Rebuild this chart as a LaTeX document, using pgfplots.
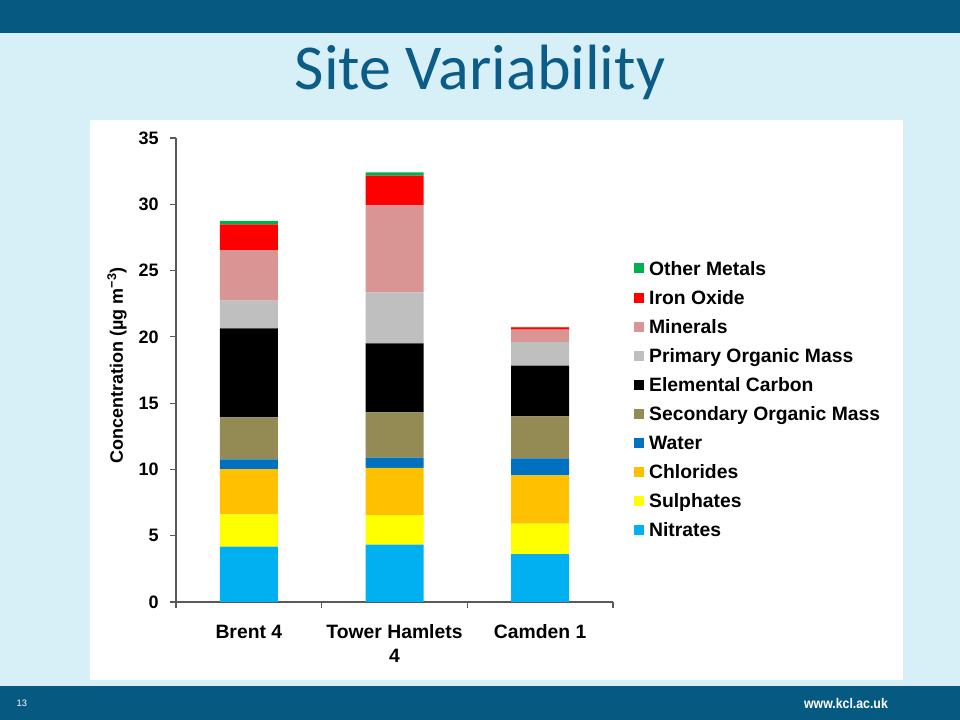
\documentclass[border=0pt]{standalone}
\usepackage{fontspec}
\setmainfont{Liberation Sans}
\newfontfamily\titlefont{Carlito}
\usepackage{pgfplots}
\pgfplotsset{compat=1.18}

\definecolor{kclDark}{HTML}{065A82}
\definecolor{kclLight}{HTML}{D7F0F7}
\definecolor{kclTitle}{HTML}{0B5C87}
\definecolor{cNit}{HTML}{00B0F0}
\definecolor{cSul}{HTML}{FFFF00}
\definecolor{cChl}{HTML}{FFC000}
\definecolor{cWat}{HTML}{0070C0}
\definecolor{cSOM}{HTML}{948A54}
\definecolor{cEC}{HTML}{000000}
\definecolor{cPOM}{HTML}{BFBFBF}
\definecolor{cMin}{HTML}{D99594}
\definecolor{cFe}{HTML}{FF0000}
\definecolor{cOM}{HTML}{00B050}

\begin{document}
\begin{tikzpicture}
% slide background
\fill[kclLight] (0,0) rectangle (720pt,540pt);
\fill[kclDark] (0,515.25pt) rectangle (720pt,540pt);
\fill[kclDark] (0,0) rectangle (720pt,25.5pt);
\fill[white] (67.5pt,30pt) rectangle (677.25pt,450pt);
\node[text=kclTitle, font=\titlefont\fontsize{48}{50}\selectfont] at (360pt,486pt) {Site Variability};
\node[text=white, font=\fontsize{7}{8}\selectfont, anchor=west] at (9pt,12.75pt) {13};
\node[text=white, font=\bfseries\fontsize{10.5}{11}\selectfont, anchor=east, xscale=0.88] at (669pt,12.5pt) {www.kcl.ac.uk};

\begin{axis}[
    at={(132pt,88.5pt)}, anchor=south west,
    scale only axis, width=327.75pt, height=348pt,
    ybar stacked, bar width=43.5pt,
    xmin=-0.5, xmax=2.5, ymin=0, ymax=35,
    axis lines*=left,
    axis line style={black!65, line width=0.8pt},
    tick style={black!65, line width=0.8pt},
    tick align=outside,
    major tick length=4.5pt,
    minor tick length=4.5pt,
    xtick={0,1,2},
    xticklabels={Brent 4, Tower Hamlets\\4, Camden 1},
    major x tick style={draw=none},
    minor xtick={-0.5,0.5,1.5,2.5},
    x tick label style={font=\bfseries\fontsize{14.5}{18}\selectfont, align=center, anchor=north, yshift=-9pt},
    ytick={0,5,...,35},
    y tick label style={font=\bfseries\fontsize{13.5}{15}\selectfont, xshift=-5pt},
    /pgf/number format/assume math mode=true,
    ylabel={Concentration (µg m\textsuperscript{−3})},
    y label style={at={(axis description cs:-0.135,0.51)}, anchor=center, font=\bfseries\fontsize{13.5}{15}\selectfont},
    reverse legend,
    legend cell align=left,
    legend image code/.code={\fill[#1] (0pt,-2.4pt) rectangle (7.5pt,5.1pt);},
    legend style={draw=none, fill=none, at={(axis description cs:1.047,0.433)}, anchor=west,
      inner sep=0pt, row sep=6.3pt,
      nodes={inner sep=1pt, text height=10.5pt, text depth=3pt},
      font=\bfseries\fontsize{14.5}{16}\selectfont,
      /tikz/every odd column/.append style={column sep=3pt}},
]
\addplot[fill=cNit, draw=none] coordinates {(0,4.17) (1,4.32) (2,3.62)};
\addplot[fill=cSul, draw=none] coordinates {(0,2.44) (1,2.24) (2,2.29)};
\addplot[fill=cChl, draw=none] coordinates {(0,3.42) (1,3.55) (2,3.65)};
\addplot[fill=cWat, draw=none] coordinates {(0,0.73) (1,0.78) (2,1.28)};
\addplot[fill=cSOM, draw=none] coordinates {(0,3.17) (1,3.42) (2,3.17)};
\addplot[fill=cEC, draw=none] coordinates {(0,6.71) (1,5.20) (2,3.82)};
\addplot[fill=cPOM, draw=none] coordinates {(0,2.09) (1,3.85) (2,1.78)};
\addplot[fill=cMin, draw=none] coordinates {(0,3.82) (1,6.56) (2,0.93)};
\addplot[fill=cFe, draw=none] coordinates {(0,1.94) (1,2.24) (2,0.18)};
\addplot[fill=cOM, draw=none] coordinates {(0,0.25) (1,0.25) (2,0.04)};
\legend{Nitrates, Sulphates, Chlorides, Water, Secondary Organic Mass, Elemental Carbon, Primary Organic Mass, Minerals, Iron Oxide, Other Metals}
\end{axis}
\end{tikzpicture}
\end{document}
